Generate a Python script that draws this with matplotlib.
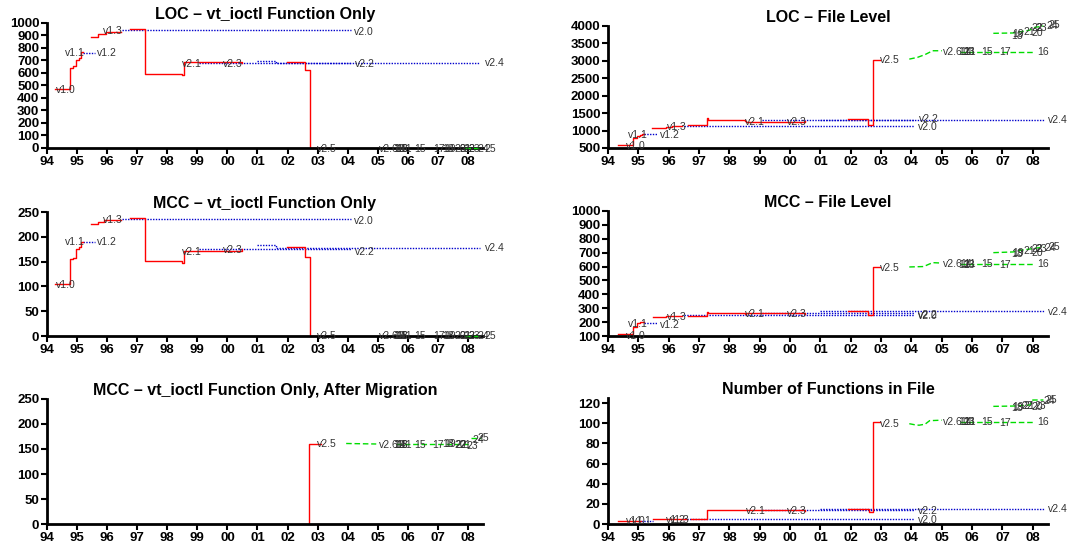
import numpy as np
import matplotlib.pyplot as plt

plt.rcParams['font.family'] = ['Liberation Sans', 'DejaVu Sans']

years = list(range(1994, 2009))
year_labels = ['94', '95', '96', '97', '98', '99', '00', '01', '02', '03', '04', '05', '06', '07', '08']

# ---- LOC, vt_ioctl function only ----
loc_fn_red = [
    ([1994.27, 1994.76, 1994.85, 1994.95, 1995.05, 1995.12, 1995.2], [475, 640, 655, 700, 720, 765, 765]),
    ([1995.45, 1995.7, 1995.95, 1996.45], [890, 915, 930, 930]),
    ([1996.75, 1997.27, 1998.5, 1998.55, 2000.5], [950, 595, 585, 685, 680]),
    ([2001.97, 2002.57, 2002.74, 2003.6], [685, 620, 0, 0]),
]
loc_fn_blue = [
    ([1995.2, 1995.6], [760, 760]),
    ([1996.5, 2004.1], [940, 940]),
    ([1999.07, 2004.1], [680, 680]),
    ([2001.0, 2001.6, 2008.4], [697, 682, 682]),
]
loc_fn_green = [([2007.9, 2008.45], [0, 0])]
loc_fn_labels = [
    ('v1.0', 1994.3, 465), ('v1.1', 1994.6, 760), ('v1.2', 1995.67, 760), ('v1.3', 1995.87, 935),
    ('v2.0', 2004.22, 925), ('v2.1', 1998.5, 670), ('v2.3', 1999.85, 672), ('v2.2', 2004.25, 668),
    ('v2.4', 2008.55, 680), ('v2.5', 2002.97, -5),
    ('v2.6.11', 2005.05, -5), ('12', 2005.5, -5), ('13', 2005.62, -5), ('14', 2005.55, -5),
    ('16', 2005.6, -5), ('15', 2006.2, -5), ('17', 2006.85, -5), ('18', 2007.15, -5),
    ('19', 2007.2, -5), ('20', 2007.55, -5), ('21', 2007.7, -5), ('22', 2007.85, -5),
    ('23', 2008.0, -5), ('24', 2008.3, -5), ('25', 2008.55, -5),
]

# ---- MCC, vt_ioctl function only ----
mcc_fn_red = [
    ([1994.27, 1994.76, 1994.85, 1994.95, 1995.05, 1995.12, 1995.2], [105, 155, 157, 175, 180, 190, 190]),
    ([1995.45, 1995.7, 1995.9, 1996.45], [225, 229, 233, 233]),
    ([1996.75, 1997.27, 1998.5, 1998.55, 2000.5], [237, 151, 147, 172, 175]),
    ([2001.97, 2002.57, 2002.74, 2003.6], [180, 160, 0, 0]),
]
mcc_fn_blue = [
    ([1995.2, 1995.6], [190, 190]),
    ([1996.5, 2004.1], [235, 235]),
    ([1999.07, 2004.1], [175, 175]),
    ([2001.0, 2001.6, 2008.4], [184, 178, 178]),
]
mcc_fn_green = [([2007.9, 2008.45], [0, 0])]
mcc_fn_labels = [
    ('v1.0', 1994.3, 102), ('v1.1', 1994.6, 190), ('v1.2', 1995.67, 190), ('v1.3', 1995.87, 233),
    ('v2.0', 2004.22, 232), ('v2.1', 1998.5, 170), ('v2.3', 1999.85, 173), ('v2.2', 2004.25, 170),
    ('v2.4', 2008.55, 178), ('v2.5', 2002.97, -1),
    ('v2.6.11', 2005.05, -1), ('12', 2005.5, -1), ('13', 2005.62, -1), ('14', 2005.55, -1),
    ('16', 2005.6, -1), ('15', 2006.2, -1), ('17', 2006.85, -1), ('18', 2007.15, -1),
    ('19', 2007.2, -1), ('20', 2007.55, -1), ('21', 2007.7, -1), ('22', 2007.85, -1),
    ('23', 2008.0, -1), ('24', 2008.3, -1), ('25', 2008.55, -1),
]

# ---- MCC, vt_ioctl after migration ----
mig_red = [([2002.7, 2002.72, 2003.1], [0, 160, 160])]
mig_blue = []
mig_green = [
    ([2003.95, 2004.95], [161, 160]),
    ([2005.6, 2008.1], [160, 160]),
    ([2008.1, 2008.45], [172, 172]),
]
mig_labels = [
    ('v2.5', 2002.97, 160),
    ('v2.6.11', 2005.05, 157), ('12', 2005.5, 157), ('13', 2005.62, 157), ('14', 2005.55, 157),
    ('16', 2005.6, 157), ('15', 2006.2, 157), ('17', 2006.8, 157), ('18', 2007.15, 160),
    ('19', 2007.2, 159), ('20', 2007.55, 157), ('21', 2007.7, 158), ('22', 2007.6, 157),
    ('23', 2007.95, 155), ('24', 2008.15, 168), ('25', 2008.3, 171),
]

# ---- LOC, file level ----
loc_file_red = [
    ([1994.33, 1994.83, 1994.95, 1995.05, 1995.12, 1995.2], [600, 780, 830, 870, 900, 900]),
    ([1995.45, 1995.9, 1996.1, 1996.45], [1080, 1100, 1120, 1120]),
    ([1996.63, 1997.25, 1997.28, 1998.5, 1998.55, 2000.5], [1150, 1350, 1290, 1270, 1260, 1285]),
    ([2001.9, 2002.58, 2002.72, 2002.97], [1320, 1160, 3025, 3025]),
]
loc_file_blue = [
    ([1995.2, 1995.6], [910, 910]),
    ([1996.5, 2004.1], [1145, 1145]),
    ([1999.07, 2004.1], [1290, 1290]),
    ([2001.0, 2008.4], [1310, 1310]),
]
loc_file_green = [
    ([2003.93, 2004.2, 2004.45, 2004.7, 2005.0], [3050, 3100, 3180, 3290, 3290]),
    ([2005.6, 2008.0], [3250, 3250]),
    ([2006.7, 2007.35, 2007.9, 2008.0, 2008.35], [3790, 3800, 3880, 3950, 4000]),
]
loc_file_labels = [
    ('v1.0', 1994.6, 570), ('v1.1', 1994.67, 870), ('v1.2', 1995.72, 860), ('v1.3', 1995.94, 1110),
    ('v2.0', 2004.2, 1110), ('v2.1', 1998.5, 1240), ('v2.3', 1999.9, 1250), ('v2.2', 2004.25, 1330),
    ('v2.4', 2008.5, 1300), ('v2.5', 2002.97, 3015),
    ('v2.6.11', 2005.05, 3250), ('12', 2005.55, 3245), ('13', 2005.7, 3245), ('14', 2005.62, 3250),
    ('15', 2006.3, 3250), ('17', 2006.9, 3240), ('16', 2008.15, 3250),
    ('18', 2007.3, 3720), ('19', 2007.32, 3760), ('20', 2007.95, 3790), ('21', 2007.7, 3830),
    ('22', 2007.95, 3950), ('23', 2008.1, 3950), ('24', 2008.45, 4000), ('25', 2008.52, 4020),
]

# ---- MCC, file level ----
mcc_file_red = [
    ([1994.33, 1994.83, 1994.95, 1995.05, 1995.2], [112, 165, 190, 200, 200]),
    ([1995.5, 1995.9, 1996.45], [237, 242, 242]),
    ([1996.63, 1997.25, 1997.28, 1998.5, 1998.55, 2000.5], [246, 270, 262, 258, 265, 258]),
    ([2001.9, 2002.58, 2002.72, 2002.97], [280, 249, 597, 597]),
]
mcc_file_blue = [
    ([1995.2, 1995.6], [192, 192]),
    ([1996.5, 2004.1], [249, 249]),
    ([1999.07, 2004.1], [262, 262]),
    ([2001.0, 2008.4], [278, 278]),
]
mcc_file_green = [
    ([2003.93, 2004.4, 2004.7, 2005.0], [597, 600, 628, 625]),
    ([2005.6, 2008.0], [616, 616]),
    ([2006.7, 2007.35, 2007.6, 2008.0, 2008.35], [700, 705, 717, 729, 740]),
]
mcc_file_labels = [
    ('v1.0', 1994.6, 100), ('v1.1', 1994.67, 185), ('v1.2', 1995.72, 180), ('v1.3', 1995.94, 238),
    ('v2.0', 2004.2, 245), ('v2.1', 1998.5, 258), ('v2.3', 1999.9, 256), ('v2.2', 2004.22, 252),
    ('v2.4', 2008.5, 275), ('v2.5', 2002.97, 590),
    ('v2.6.11', 2005.05, 616), ('12', 2005.55, 614), ('13', 2005.7, 614), ('14', 2005.62, 616),
    ('15', 2006.3, 616), ('17', 2006.9, 612), ('16', 2008.15, 616),
    ('18', 2007.3, 690), ('19', 2007.32, 698), ('20', 2007.95, 698), ('21', 2007.7, 710),
    ('22', 2007.95, 728), ('23', 2008.1, 726), ('24', 2008.4, 736), ('25', 2008.5, 738),
]

# ---- number of functions in file ----
nfun_red = [
    ([1994.33, 1995.1], [3, 3]),
    ([1995.5, 1996.6], [4.5, 4.5]),
    ([1996.75, 1997.27, 1998.5, 2000.5], [5, 13.5, 13.5, 13]),
    ([2001.9, 2002.6, 2002.72, 2002.97], [14.6, 11.5, 100.8, 100.8]),
]
nfun_blue = [
    ([1995.1, 1995.5], [3, 3]),
    ([1996.5, 2004.1], [5, 5]),
    ([1999.07, 2004.1], [13.6, 13.6]),
    ([2001.0, 2008.4], [14.6, 14.6]),
]
nfun_green = [
    ([2003.93, 2004.1, 2004.25, 2004.45, 2004.6, 2005.0], [99.5, 98.5, 98, 99, 102.5, 103]),
    ([2005.6, 2008.0], [100.8, 100.8]),
    ([2006.7, 2007.35, 2007.9, 2008.0, 2008.35], [116.7, 117, 118, 123, 123]),
]
nfun_labels = [
    ('v1.0', 1994.6, 2.5), ('v1.1', 1994.8, 2.5), ('v1.2', 1995.9, 3.5), ('v1.3', 1996.05, 3.5),
    ('v2.0', 2004.2, 4), ('v2.1', 1998.55, 13), ('v2.3', 1999.9, 13), ('v2.2', 2004.22, 13),
    ('v2.4', 2008.5, 14.5), ('v2.5', 2002.97, 99),
    ('v2.6.11', 2005.05, 101.5), ('12', 2005.55, 101.5), ('13', 2005.7, 101.5), ('14', 2005.62, 101.5),
    ('15', 2006.3, 101), ('17', 2006.9, 100.5), ('16', 2008.15, 100.8),
    ('18', 2007.3, 115.5), ('19', 2007.32, 116.5), ('20', 2007.95, 116), ('21', 2007.7, 117.5),
    ('22', 2007.62, 117.5), ('23', 2008.05, 117.5), ('24', 2008.35, 122.5), ('25', 2008.42, 123),
]

panels = [
    ('LOC – vt_ioctl Function Only', loc_fn_red, loc_fn_blue, loc_fn_green, loc_fn_labels,
     (0, 1000), np.arange(0, 1001, 100), [0.0439, 0.7319, 0.4075, 0.2265]),
    ('LOC – File Level', loc_file_red, loc_file_blue, loc_file_green, loc_file_labels,
     (500, 4000), np.arange(500, 4001, 500), [0.5682, 0.7319, 0.4112, 0.2210]),
    ('MCC – vt_ioctl Function Only', mcc_fn_red, mcc_fn_blue, mcc_fn_green, mcc_fn_labels,
     (0, 250), np.arange(0, 251, 50), [0.0439, 0.3913, 0.4075, 0.2246]),
    ('MCC – File Level', mcc_file_red, mcc_file_blue, mcc_file_green, mcc_file_labels,
     (100, 1000), np.arange(100, 1001, 100), [0.5682, 0.3913, 0.4112, 0.2265]),
    ('MCC – vt_ioctl Function Only, After Migration', mig_red, mig_blue, mig_green, mig_labels,
     (0, 250), np.arange(0, 251, 50), [0.0439, 0.0507, 0.4075, 0.2265]),
    ('Number of Functions in File', nfun_red, nfun_blue, nfun_green, nfun_labels,
     (0, 125), np.arange(0, 121, 20), [0.5682, 0.0507, 0.4112, 0.2283]),
]

fig = plt.figure(figsize=(10.7, 5.52), dpi=100)

for title, red, blue, green, labels, ylim, yticks, rect in panels:
    ax = fig.add_axes(rect)
    for xs, ys in blue:
        ax.step(xs, ys, where='post', color='#0000cc', lw=1.0, ls=(0, (1, 1)))
    for xs, ys in red:
        ax.step(xs, ys, where='post', color='#ff0000', lw=1.0)
    for xs, ys in green:
        ax.plot(xs, ys, color='#00dd00', lw=1.0, ls=(0, (4, 2)), zorder=3, clip_on=False)
    for txt, x, y in labels:
        ax.text(x, y, txt, fontsize=7.5, color='#333333', ha='left', va='center', clip_on=False)
    ax.set_xlim(1994, 2008.5)
    ax.set_ylim(*ylim)
    ax.set_xticks(years)
    ax.set_xticklabels(year_labels)
    ax.set_yticks(yticks)
    for s in ['top', 'right']:
        ax.spines[s].set_visible(False)
    for s in ['left', 'bottom']:
        ax.spines[s].set_linewidth(2)
    ax.tick_params(direction='out', length=4, width=1.5, pad=1.5, labelsize=9.5)
    for lab in ax.get_xticklabels() + ax.get_yticklabels():
        lab.set_fontweight('bold')
    ax.set_title(title, fontsize=11.5, fontweight='bold', pad=3)

fig.savefig('out.png', dpi=100)
